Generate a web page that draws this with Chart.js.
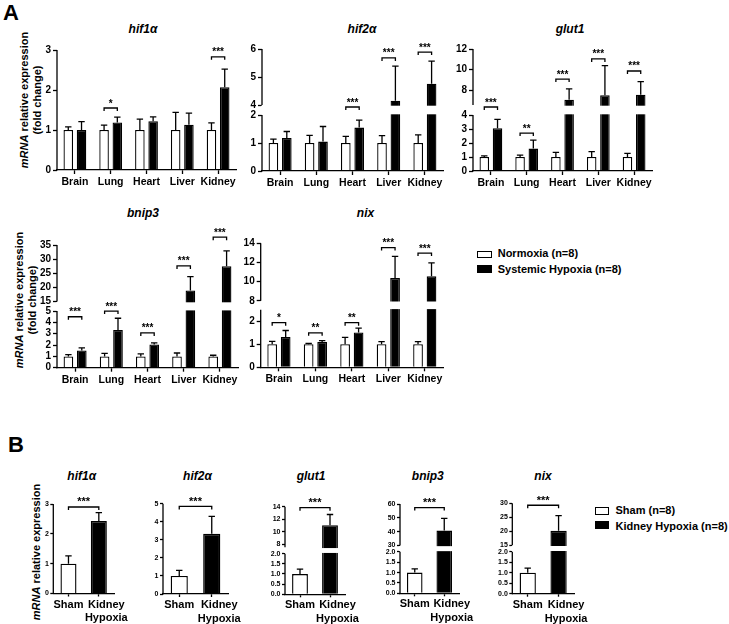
<!DOCTYPE html>
<html>
<head>
<meta charset="utf-8">
<script src="https://cdn.jsdelivr.net/npm/chart.js@4.4.1/dist/chart.umd.min.js"></script>
<style>
  html, body { margin: 0; padding: 0; background: #fff; }
  #fig { position: relative; width: 729px; height: 624px; overflow: hidden;
    font-family: "Liberation Sans", Arial, sans-serif; font-weight: bold; color: #000; }
  #fig canvas { position: absolute; }
  .txt { position: absolute; white-space: nowrap; }
  .lettre { font-size: 22px; line-height: 22px; }
  .titre { font-style: italic; font-size: 12px; line-height: 12px; width: 100px; text-align: center; }
  .ytitre { font-size: 11px; line-height: 12.5px; text-align: center;
    transform: translate(-50%, -50%) rotate(-90deg); }
  .leg { font-size: 11px; line-height: 11px; }
  .legB { font-size: 11px; line-height: 11px; }
  .boite { position: absolute; border: 1.5px solid #000; box-sizing: border-box; }
</style>
</head>
<body>
<div id="fig">
  <div class="txt lettre" style="left:3px;top:2px">A</div>
  <div class="txt lettre" style="left:8px;top:434px">B</div>

  <div class="txt titre" style="left:93px;top:22.8px">hif1α</div>
  <div class="txt titre" style="left:312px;top:22.8px">hif2α</div>
  <div class="txt titre" style="left:520px;top:22.8px">glut1</div>
  <div class="txt titre" style="left:93px;top:207.3px">bnip3</div>
  <div class="txt titre" style="left:315.5px;top:207.3px">nix</div>

  <div class="txt titre" style="left:31.7px;top:469.8px">hif1α</div>
  <div class="txt titre" style="left:147.5px;top:469.8px">hif2α</div>
  <div class="txt titre" style="left:261px;top:469.8px">glut1</div>
  <div class="txt titre" style="left:377.8px;top:469.8px">bnip3</div>
  <div class="txt titre" style="left:493px;top:469.8px">nix</div>

  <div class="txt ytitre" style="left:30px;top:100px"><i>mRNA</i> relative expression<br>(fold change)</div>
  <div class="txt ytitre" style="left:24.8px;top:300px"><i>mRNA</i> relative expression<br>(fold change)</div>
  <div class="txt ytitre" style="left:36px;top:551.7px"><i>mRNA</i> relative expression</div>

  <div class="boite" style="left:477px;top:250.7px;width:15px;height:7.6px;background:#fff"></div>
  <div class="txt leg" style="left:497.7px;top:248.3px">Normoxia (n=8)</div>
  <div class="boite" style="left:477px;top:265.3px;width:15px;height:7.6px;background:#000"></div>
  <div class="txt leg" style="left:497.7px;top:263.5px">Systemic Hypoxia (n=8)</div>

  <div class="boite" style="left:595px;top:507.3px;width:14.3px;height:8px;background:#fff"></div>
  <div class="txt legB" style="left:615.5px;top:505px">Sham (n=8)</div>
  <div class="boite" style="left:595px;top:521.3px;width:14.3px;height:8px;background:#000"></div>
  <div class="txt legB" style="left:615.5px;top:520.5px">Kidney Hypoxia (n=8)</div>
</div>

<script>
const organes = ["Brain", "Lung", "Heart", "Liver", "Kidney"];
const groupesB = ["Sham", ["Kidney", "Hypoxia"]];

// panel A : normoxie (blanc) / hypoxie systemique (noir), moyenne + SD
const hif1aNorm = [1, 1, 1, 1, 1];
const hif1aNormSD = [0.08, 0.12, 0.27, 0.44, 0.18];
const hif1aHyp = [1.0, 1.19, 1.22, 1.13, 2.07];
const hif1aHypSD = [0.21, 0.13, 0.11, 0.29, 0.45];
const hif1aSig = ["", "*", "", "", "***"];
const hif1aNiv = [null, 1.55, null, null, 2.83];
const hif1aTicks = [0, 1, 2, 3];

const hif2aNorm = [1, 1, 1, 1, 1];
const hif2aNormSD = [0.14, 0.27, 0.24, 0.26, 0.29];
const hif2aHyp = [1.18, 1.05, 1.55, 4.15, 4.76];
const hif2aHypSD = [0.23, 0.54, 0.27, 1.24, 0.81];
const hif2aSig = ["", "", "***", "***", "***"];
const hif2aNiv = [null, null, 3.6, 5.68, 5.89];
const hif2aTicks = [0, 1, 2, 4, 5, 6];

const glut1Norm = [1, 1, 1, 1, 1];
const glut1NormSD = [0.08, 0.14, 0.33, 0.38, 0.26];
const glut1Hyp = [3.05, 1.6, 7.1, 7.55, 7.6];
const glut1HypSD = [0.64, 0.6, 1.06, 2.85, 1.26];
const glut1Sig = ["***", "**", "***", "***", "***"];
const glut1Niv = [6.08, 2.71, 9.1, 11.04, 9.88];
const glut1Ticks = [0, 1, 2, 3, 4, 8, 10, 12];

const bnip3Norm = [1, 1, 1, 1, 1];
const bnip3NormSD = [0.15, 0.26, 0.22, 0.3, 0.1];
const bnip3Hyp = [1.53, 3.34, 2.06, 18.9, 27.5];
const bnip3HypSD = [0.23, 1.03, 0.14, 4.9, 5.4];
const bnip3Sig = ["***", "***", "***", "***", "***"];
const bnip3Niv = [4.5, 5.0, 3.07, 27.6, 37.75];
const bnip3Ticks = [0, 1, 2, 3, 4, 5, 15, 20, 25, 30, 35];

const nixNorm = [1, 1, 1, 1, 1];
const nixNormSD = [0.13, 0.04, 0.3, 0.12, 0.12];
const nixHyp = [1.32, 1.1, 1.51, 10.37, 10.55];
const nixHypSD = [0.28, 0.06, 0.19, 2.27, 1.41];
const nixSig = ["*", "**", "**", "***", "***"];
const nixNiv = [1.94, 1.5, 1.94, 13.55, 12.98];
const nixTicks = [0, 1, 2, 8, 10, 12, 14];

// panel B : sham / kidney hypoxia
const bHif1a = [1.0, 2.43];
const bHif1aSD = [0.26, 0.28];
const bHif1aNiv = 2.9;
const bHif1aTicks = [0, 1, 2, 3];

const bHif2a = [1.0, 3.33];
const bHif2aSD = [0.31, 0.97];
const bHif2aNiv = 4.85;
const bHif2aTicks = [0, 1, 2, 3, 4, 5];

const bGlut1 = [1.0, 11.05];
const bGlut1SD = [0.24, 1.7];
const bGlut1Niv = 13.85;
const bGlut1Ticks = [0, 0.5, 1, 1.5, 2, 8, 10, 12, 14];
const bGlut1Etiq = ["0.0", "0.5", "1.0", "1.5", "2.0", "8", "10", "12", "14"];

const bBnip3 = [1.0, 40.8];
const bBnip3SD = [0.18, 8.8];
const bBnip3Niv = 57.4;
const bBnip3Ticks = [0, 0.5, 1, 1.5, 2, 30, 40, 50, 60];
const bBnip3Etiq = ["0.0", "0.5", "1.0", "1.5", "2.0", "30", "40", "50", "60"];

const bNix = [1.0, 20.2];
const bNixSD = [0.22, 5.4];
const bNixNiv = 29.3;
const bNixTicks = [0, 0.5, 1, 1.5, 2, 15, 20, 25, 30];
const bNixEtiq = ["0.0", "0.5", "1.0", "1.5", "2.0", "15", "20", "25", "30"];

const NOIR = "#000";
const POLICE = "'Liberation Sans', Arial, sans-serif";

// echelle lineaire avec coupure (axe casse facon GraphPad)
const LinearScale = Chart.LinearScale || Chart.registry.getScale("linear");
class EchelleCoupee extends LinearScale {
  getPixelForValue(v) {
    const c = this.coupure;
    if (!c || v === null || v === undefined || isNaN(v)) return super.getPixelForValue(v);
    const seg = (this.bottom - this.top - c.gap) / 2;
    if (v <= c.bas[1]) return this.bottom - ((v - c.bas[0]) / (c.bas[1] - c.bas[0])) * seg;
    if (v >= c.haut[0]) return this.bottom - seg - c.gap - ((v - c.haut[0]) / (c.haut[1] - c.haut[0])) * seg;
    return this.bottom - seg - ((v - c.bas[1]) / (c.haut[0] - c.bas[1])) * c.gap;
  }
  getValueForPixel(p) {
    const c = this.coupure;
    if (!c) return super.getValueForPixel(p);
    const seg = (this.bottom - this.top - c.gap) / 2;
    const d = this.bottom - p;
    if (d <= seg) return c.bas[0] + (d / seg) * (c.bas[1] - c.bas[0]);
    if (d >= seg + c.gap) return c.haut[0] + ((d - seg - c.gap) / seg) * (c.haut[1] - c.haut[0]);
    return c.bas[1] + ((d - seg) / c.gap) * (c.haut[0] - c.bas[1]);
  }
}
EchelleCoupee.id = "coupee";
EchelleCoupee.defaults = {};
Chart.register(EchelleCoupee);

// barres d'erreur, crochets de significativite, axe y (avec trou)
const pluginBarres = {
  id: "barresErreur",
  beforeDraw(chart, args, opts) {
    // dans l'original le libelle "Kidney Hypoxia" est decale vers la droite
    const decal = opts.decalX;
    if (!decal) return;
    const items = chart.scales.x.getLabelItems(chart.chartArea);
    items.forEach((it, i) => {
      if (it._decale || !decal[i]) return;
      it.options.translation[0] += decal[i];
      it._decale = true;
    });
  },
  afterDatasetsDraw(chart, args, opts) {
    const ctx = chart.ctx;
    const y = chart.scales.y;
    const aire = chart.chartArea;
    ctx.save();
    if (y.coupure) {
      const yb = y.getPixelForValue(y.coupure.bas[1]);
      const yh = y.getPixelForValue(y.coupure.haut[0]);
      ctx.fillStyle = "#fff";
      ctx.fillRect(aire.left - 1, yh + 0.7, aire.right - aire.left + 2, yb - yh - 1.4);
    }
    ctx.strokeStyle = NOIR;
    ctx.lineWidth = 1.3;
    chart.data.datasets.forEach((ds, i) => {
      const meta = chart.getDatasetMeta(i);
      ds.data.forEach((v, j) => {
        const sd = ds.sd[j];
        if (v === null || !sd) return;
        const el = meta.data[j];
        const y0 = y.getPixelForValue(v);
        const y1 = y.getPixelForValue(v + sd);
        ctx.beginPath();
        ctx.moveTo(el.x, y0);
        ctx.lineTo(el.x, y1);
        ctx.moveTo(el.x - 3.2, y1);
        ctx.lineTo(el.x + 3.2, y1);
        ctx.stroke();
      });
    });
    ctx.fillStyle = NOIR;
    ctx.font = "bold " + opts.etoile + "px " + POLICE;
    ctx.textAlign = "center";
    ctx.textBaseline = "alphabetic";
    (chart.data.crochets || []).forEach((c) => {
      const xa = chart.getDatasetMeta(c.a[0]).data[c.a[1]].x;
      const xb = chart.getDatasetMeta(c.b[0]).data[c.b[1]].x;
      const yc = y.getPixelForValue(c.niv);
      ctx.beginPath();
      ctx.moveTo(xa, yc + 3);
      ctx.lineTo(xa, yc);
      ctx.lineTo(xb, yc);
      ctx.lineTo(xb, yc + 3);
      ctx.stroke();
      ctx.fillText(c.txt, (xa + xb) / 2, yc - 1.5);
    });
    ctx.beginPath();
    ctx.moveTo(aire.left, aire.bottom + 0.6);
    if (y.coupure) {
      ctx.lineTo(aire.left, y.getPixelForValue(y.coupure.bas[1]));
      ctx.moveTo(aire.left, y.getPixelForValue(y.coupure.haut[0]));
    }
    ctx.lineTo(aire.left, aire.top);
    ctx.stroke();
    ctx.restore();
  },
};

function placerCanvas(id, b) {
  const x0 = Math.floor(b.gauche - b.yW);
  const y0 = Math.floor(b.haut - b.padHaut);
  const w = Math.ceil(b.droite + 24 - x0);
  const h = Math.ceil(b.bas + b.xH - y0);
  const c = document.createElement("canvas");
  c.id = id;
  c.width = w;
  c.height = h;
  c.style.left = x0 + "px";
  c.style.top = y0 + "px";
  document.querySelector("#fig").appendChild(c);
  return {
    canvas: c,
    pad: { top: b.haut - y0, left: 0, right: x0 + w - b.droite, bottom: 0 },
    yW: b.gauche - x0,
    xH: y0 + h - b.bas,
  };
}

function optionsGraphe(p, ticksY, etiqY, coupure, st) {
  return {
    responsive: false,
    animation: false,
    events: [],
    layout: { padding: p.pad },
    plugins: {
      legend: { display: false },
      tooltip: { enabled: false },
      barresErreur: { etoile: st.etoile, decalX: st.decalX },
    },
    scales: {
      x: {
        type: "category",
        offset: true,
        grid: { display: true, drawOnChartArea: false, offset: false, tickLength: st.tlX, tickColor: NOIR, tickWidth: 1.3 },
        border: { display: true, color: NOIR, width: 1.3, z: 1 },
        ticks: { color: NOIR, font: st.policeX, padding: st.padX, autoSkip: false, maxRotation: 0 },
        afterFit: (s) => { s.height = p.xH; },
      },
      y: {
        type: "coupee",
        min: 0,
        max: ticksY[ticksY.length - 1],
        grid: { display: true, drawOnChartArea: false, tickLength: st.tlY, tickColor: NOIR, tickWidth: 1.3 },
        border: { display: false },
        ticks: { color: NOIR, font: st.policeY, padding: st.padY, autoSkip: false, callback: (v, i) => etiqY[i] },
        afterDataLimits: (s) => { s.coupure = coupure; },
        afterBuildTicks: (s) => { s.ticks = ticksY.map((v) => ({ value: v })); },
        afterFit: (s) => { s.width = p.yW; },
      },
    },
  };
}

const styleA = {
  etoile: 10, tlX: 4, padX: 1.7, tlY: 4, padY: 2, decalX: null,
  policeX: { family: POLICE, size: 10.5, weight: "bold", lineHeight: 1.2 },
  policeY: { family: POLICE, size: 10, weight: "bold" },
};
const styleB = {
  etoile: 11, tlX: 3, padX: 1, tlY: 3, padY: 1.5, decalX: [0, 7.5],
  policeX: { family: POLICE, size: 11, weight: "bold", lineHeight: 1.27 },
  policeY: { family: POLICE, size: 7, weight: "bold" },
};

function grapheA(id, boite, norm, normSD, hyp, hypSD, sig, niv, ticksY, coupure) {
  const p = placerCanvas(id, boite);
  const crochets = [];
  sig.forEach((s, j) => {
    if (s) crochets.push({ a: [0, j], b: [1, j], niv: niv[j], txt: s });
  });
  const barre = { borderColor: NOIR, borderWidth: 1.3, categoryPercentage: 0.74, barPercentage: 0.72 };
  return new Chart(p.canvas, {
    type: "bar",
    data: {
      labels: organes,
      datasets: [
        Object.assign({ label: "Normoxia (n=8)", data: norm, sd: normSD, backgroundColor: "#fff" }, barre),
        Object.assign({ label: "Systemic Hypoxia (n=8)", data: hyp, sd: hypSD, backgroundColor: NOIR }, barre),
      ],
      crochets: crochets,
    },
    options: optionsGraphe(p, ticksY, ticksY.map(String), coupure, styleA),
    plugins: [pluginBarres],
  });
}

function grapheB(id, boite, valeurs, sd, niv, ticksY, etiqY, coupure) {
  const p = placerCanvas(id, boite);
  return new Chart(p.canvas, {
    type: "bar",
    data: {
      labels: groupesB,
      datasets: [
        {
          label: "Sham / Kidney Hypoxia (n=8)",
          data: valeurs,
          sd: sd,
          backgroundColor: ["#fff", NOIR],
          borderColor: NOIR,
          borderWidth: 1.4,
          categoryPercentage: 0.8,
          barPercentage: 0.66,
        },
      ],
      crochets: [{ a: [0, 0], b: [0, 1], niv: niv, txt: "***" }],
    },
    options: optionsGraphe(p, ticksY, etiqY || ticksY.map(String), coupure, styleB),
    plugins: [pluginBarres],
  });
}

const boiteA = (gauche, haut, bas, droite, padHaut) => ({ gauche, haut, bas, droite, yW: 30, padHaut, xH: 22 });
const boiteB = (gauche, haut, bas, droite) => ({ gauche, haut, bas, droite, yW: 22, padHaut: 14, xH: 33 });

grapheA("gHif1a", boiteA(57, 50, 170, 236, 14), hif1aNorm, hif1aNormSD, hif1aHyp, hif1aHypSD, hif1aSig, hif1aNiv, hif1aTicks, null);
grapheA("gHif2a", boiteA(262, 49, 171, 443, 14), hif2aNorm, hif2aNormSD, hif2aHyp, hif2aHypSD, hif2aSig, hif2aNiv, hif2aTicks,
  { bas: [0, 2], haut: [4, 6], gap: 10 });
grapheA("gGlut1", boiteA(473, 49, 171, 652, 14), glut1Norm, glut1NormSD, glut1Hyp, glut1HypSD, glut1Sig, glut1Niv, glut1Ticks,
  { bas: [0, 4], haut: [6.6, 12], gap: 10 });
grapheA("gBnip3", boiteA(57, 245, 367.7, 238, 26), bnip3Norm, bnip3NormSD, bnip3Hyp, bnip3HypSD, bnip3Sig, bnip3Niv, bnip3Ticks,
  { bas: [0, 5], haut: [15, 35], gap: 9.5 });
grapheA("gNix", boiteA(260.7, 243.3, 367.3, 443, 14), nixNorm, nixNormSD, nixHyp, nixHypSD, nixSig, nixNiv, nixTicks,
  { bas: [0, 2.5], haut: [8, 14], gap: 9 });

grapheB("bHif1a", boiteB(53.3, 504, 593.5, 114), bHif1a, bHif1aSD, bHif1aNiv, bHif1aTicks, null, null);
grapheB("bHif2a", boiteB(163, 503.7, 594, 228), bHif2a, bHif2aSD, bHif2aNiv, bHif2aTicks, null, null);
grapheB("bGlut1", boiteB(285, 506.7, 594.3, 345), bGlut1, bGlut1SD, bGlut1Niv, bGlut1Ticks, bGlut1Etiq,
  { bas: [0, 2], haut: [7.5, 14], gap: 6.3 });
grapheB("bBnip3", boiteB(400, 504, 593.3, 459), bBnip3, bBnip3SD, bBnip3Niv, bBnip3Ticks, bBnip3Etiq,
  { bas: [0, 2], haut: [30, 60], gap: 6.4 });
grapheB("bNix", boiteB(512.3, 503.3, 593.7, 574), bNix, bNixSD, bNixNiv, bNixTicks, bNixEtiq,
  { bas: [0, 2], haut: [15, 30], gap: 6.4 });
</script>
</body>
</html>
